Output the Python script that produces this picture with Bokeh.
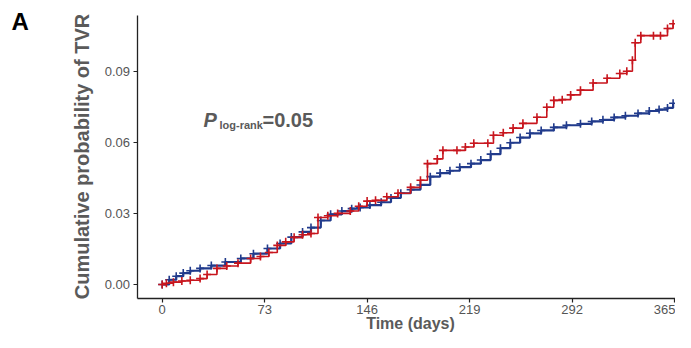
import math
from bokeh.plotting import figure
from bokeh.models import Range1d, FixedTicker, NumeralTickFormatter, Label
from bokeh.embed import file_html
from bokeh.resources import INLINE

# Cumulative probability of TVR
blue_time = [0, 5, 10, 15, 20, 27, 35, 45, 56, 65, 75, 84, 92, 100, 106, 113, 120, 128,
             135, 141, 148, 156, 163, 170, 177, 184, 191, 198, 205, 212, 220, 227, 234,
             241, 248, 255, 262, 270, 279, 288, 298, 306, 314, 322, 330, 339, 347, 354,
             360, 364]
blue_prob = [0, 0.002, 0.0035, 0.0048, 0.0058, 0.0068, 0.008, 0.0095, 0.011, 0.013, 0.0152,
             0.0173, 0.020, 0.0222, 0.024, 0.027, 0.0296, 0.031, 0.032, 0.0325, 0.0335,
             0.0347, 0.0365, 0.0385, 0.040, 0.042, 0.0455, 0.047, 0.048, 0.0495, 0.051,
             0.0525, 0.055, 0.0575, 0.0598, 0.062, 0.0638, 0.065, 0.0663, 0.0672, 0.0678,
             0.0688, 0.0695, 0.0705, 0.0712, 0.0722, 0.0732, 0.0738, 0.0745, 0.0765]

red_time = [0, 3, 8, 14, 20, 27, 32, 39, 46, 54, 63, 70, 76, 82, 88, 94, 100, 106, 111,
            118, 125, 134, 140, 146, 152, 160, 168, 177, 184, 189, 196, 200, 210, 216, 222,
            232, 236, 243, 250, 257, 267, 274, 279, 285, 291, 298, 307, 317, 326, 331, 335,
            337, 341, 350, 355, 360, 364]
red_prob = [0, 0.0005, 0.001, 0.0015, 0.0018, 0.0025, 0.0042, 0.0068, 0.0078, 0.009, 0.011,
            0.0118, 0.0135, 0.0165, 0.018, 0.0199, 0.021, 0.0215, 0.0283, 0.029, 0.030, 0.031,
            0.033, 0.0352, 0.0355, 0.037, 0.0385, 0.041, 0.044, 0.051, 0.053, 0.0566, 0.0566,
            0.058, 0.0596, 0.0596, 0.063, 0.064, 0.066, 0.068, 0.0706, 0.0748, 0.0777, 0.078,
            0.080, 0.082, 0.085, 0.087, 0.089, 0.090, 0.0946, 0.102, 0.105, 0.105, 0.105,
            0.108, 0.110]

x_ticks = [0, 73, 146, 219, 292, 365]
y_ticks = [0, 0.03, 0.06, 0.09]

panel_label = "A"
x_title = "Time (days)"
y_title = "Cumulative probability of TVR"
p_main = "P"
p_sub = "log-rank"
p_value = "=0.05"

RED = "#C8161E"
BLUE = "#213B8C"
GREY = "#5A5A5A"
FONT = "Liberation Sans"

# frame covers the whole canvas; axes are pinned inside it with fixed_location
p = figure(width=675, height=332, output_backend="svg", toolbar_location=None,
           x_range=Range1d(-115.2, 365.7), y_range=Range1d(-0.020253, 0.119831),
           min_border=0)
p.outline_line_color = None
p.grid.visible = False
p.background_fill_color = "white"
p.border_fill_color = "white"

AX_X = -17.95    # day value where the y axis sits
AX_Y = -0.0057   # probability value where the x axis sits

for ax in (p.xaxis[0], p.yaxis[0]):
    ax.axis_line_color = "#222222"
    ax.axis_line_width = 1.3
    ax.major_tick_line_color = "#222222"
    ax.major_tick_line_width = 1.2
    ax.major_tick_out = 4
    ax.major_tick_in = 0
    ax.minor_tick_line_color = None
    ax.major_label_text_font = FONT
    ax.major_label_text_font_size = "13px"
    ax.major_label_text_color = "#555555"

p.xaxis.ticker = FixedTicker(ticks=x_ticks)
p.yaxis.ticker = FixedTicker(ticks=y_ticks)
p.yaxis.formatter = NumeralTickFormatter(format="0.00")
p.yaxis.major_label_standoff = 3
p.xaxis.major_label_standoff = 3
p.yaxis.fixed_location = AX_X
p.xaxis.fixed_location = AX_Y
p.yaxis.bounds = (AX_Y, 0.1135)
p.xaxis.bounds = (AX_X, 400)

p.step(blue_time, blue_prob, mode="after", line_color=BLUE, line_width=2.2)
p.scatter(blue_time, blue_prob, marker="cross", size=8, line_color=BLUE, line_width=1.6)
p.step(red_time, red_prob, mode="after", line_color=RED, line_width=1.6)
p.scatter(red_time, red_prob, marker="cross", size=8, line_color=RED, line_width=1.6)

p.add_layout(Label(x=176.9, y=-0.01992, text=x_title, text_align="center",
                   text_baseline="bottom", text_font=FONT, text_font_size="16px",
                   text_font_style="bold", text_color=GREY))
p.add_layout(Label(x=-56.85, y=0.05401, text=y_title, angle=math.pi / 2, text_align="center",
                   text_baseline="alphabetic", text_font=FONT, text_font_size="20px",
                   text_font_style="bold", text_color=GREY))
p.add_layout(Label(x=-107.37, y=0.11101, text=panel_label, text_align="left",
                   text_baseline="alphabetic", text_font=FONT, text_font_size="24px",
                   text_font_style="bold", text_color="black"))
p.add_layout(Label(x=29.42, y=0.06945, text=p_main, text_align="left",
                   text_baseline="alphabetic", text_font=FONT, text_font_size="20px",
                   text_font_style="bold italic", text_color=GREY))
p.add_layout(Label(x=40.82, y=0.06717, text=p_sub, text_align="left",
                   text_baseline="alphabetic", text_font=FONT, text_font_size="11px",
                   text_font_style="bold", text_color=GREY))
p.add_layout(Label(x=71.46, y=0.06945, text=p_value, text_align="left",
                   text_baseline="alphabetic", text_font=FONT, text_font_size="20px",
                   text_font_style="bold", text_color=GREY))

open("out.html", "w").write(file_html(p, INLINE))
